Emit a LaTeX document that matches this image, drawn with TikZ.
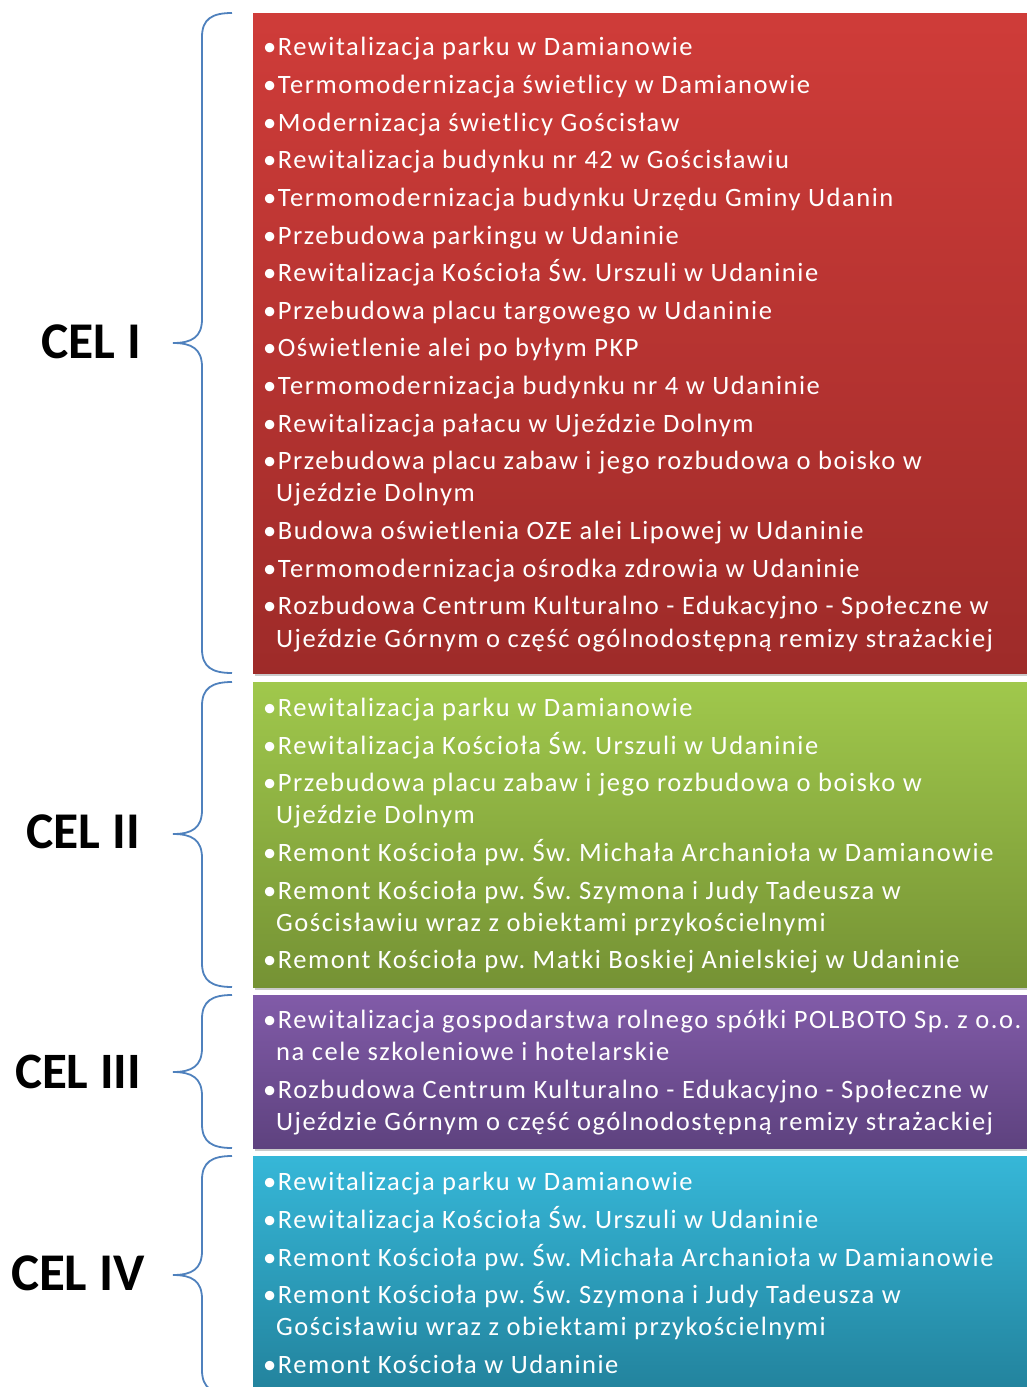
\documentclass[tikz,border=0pt]{standalone}
\usepackage{fontspec}
\setmainfont{Carlito}
\newfontfamily\itemfont[LetterSpace=5.8]{Carlito}
\frenchspacing
\usetikzlibrary{shadows}
\definecolor{bracecol}{RGB}{79,129,189}
\definecolor{redtop}{RGB}{207,60,57}
\definecolor{redbot}{RGB}{158,43,41}
\definecolor{grntop}{RGB}{160,200,76}
\definecolor{grnbot}{RGB}{117,146,52}
\definecolor{purtop}{RGB}{129,91,168}
\definecolor{purbot}{RGB}{94,66,127}
\definecolor{blutop}{RGB}{54,183,216}
\definecolor{blubot}{RGB}{34,130,156}
\tikzset{
  panel/.style={draw=none, drop shadow={shadow xshift=2pt, shadow yshift=-3pt, opacity=0.35, fill=black!60}},
  item/.style={anchor=base west, inner sep=0pt, text=white, font=\itemfont\fontsize{26.5}{30}\selectfont},
  cellabel/.style={anchor=base east, inner sep=0pt, text=black, font=\bfseries\fontsize{#1}{56}\selectfont},
  bracestyle/.style={draw=bracecol, line width=1.8pt}
}
\newcommand{\mybrace}[3]{% top, tip, bottom
  \draw[bracestyle] (232,#1) .. controls (212,#1) and (202,#1+6) .. (202,#1+24)
    -- (202,#2-24) .. controls (202,#2-6) and (192,#2) .. (173,#2)
    .. controls (192,#2) and (202,#2+6) .. (202,#2+24)
    -- (202,#3-24) .. controls (202,#3-6) and (212,#3) .. (232,#3);
}
\begin{document}
\begin{tikzpicture}[x=1pt,y=-1pt]
\useasboundingbox (0,0) rectangle (1027,1387);
% panels
\path[panel, top color=redtop, bottom color=redbot] (253,13) rectangle (1027,673);
\path[panel, top color=grntop, bottom color=grnbot] (253,682) rectangle (1027,987);
\path[panel, top color=purtop, bottom color=purbot] (253,995) rectangle (1027,1148);
\path[panel, top color=blutop, bottom color=blubot] (253,1156) rectangle (1027,1394);
% braces
\mybrace{13}{343}{673}
\mybrace{682}{834}{987}
\mybrace{995}{1072}{1148}
\mybrace{1156}{1275}{1394}
% labels
\node[cellabel=51.5] (c1) at (141,358) {CEL I};
\node[cellabel=51.5] (c2) at (140,848) {CEL II};
\node[cellabel=51] (c3) at (141,1088) {CEL III};
\node[cellabel=53] (c4) at (145,1290) {CEL IV};
% red
\node[item] (r1) at (263,55) {•Rewitalizacja parku w Damianowie};
\node[item] (r2) at (263,93) {•Termomodernizacja świetlicy w Damianowie};
\node[item] (r3) at (263,131) {•Modernizacja świetlicy Gościsław};
\node[item] (r4) at (263,168) {•Rewitalizacja budynku nr 42 w Gościsławiu};
\node[item] (r5) at (263,206) {•Termomodernizacja budynku Urzędu Gminy Udanin};
\node[item] (r6) at (263,244) {•Przebudowa parkingu w Udaninie};
\node[item] (r7) at (263,281) {•Rewitalizacja Kościoła Św. Urszuli w Udaninie};
\node[item] (r8) at (263,319) {•Przebudowa placu targowego w Udaninie};
\node[item] (r9) at (263,356) {•Oświetlenie alei po byłym PKP};
\node[item] (r10) at (263,394) {•Termomodernizacja budynku nr 4 w Udaninie};
\node[item] (r11) at (263,432) {•Rewitalizacja pałacu w Ujeździe Dolnym};
\node[item] (r12) at (263,469) {•Przebudowa placu zabaw i jego rozbudowa o boisko w};
\node[item] (r12b) at (276,501) {Ujeździe Dolnym};
\node[item] (r13) at (263,539) {•Budowa oświetlenia OZE alei Lipowej w Udaninie};
\node[item] (r14) at (263,577) {•Termomodernizacja ośrodka zdrowia w Udaninie};
\node[item] (r15) at (263,614) {•Rozbudowa Centrum Kulturalno - Edukacyjno - Społeczne w};
\node[item] (r15b) at (276,647) {Ujeździe Górnym o część ogólnodostępną remizy strażackiej};
% green
\node[item] (g1) at (263,716) {•Rewitalizacja parku w Damianowie};
\node[item] (g2) at (263,754) {•Rewitalizacja Kościoła Św. Urszuli w Udaninie};
\node[item] (g3) at (263,791) {•Przebudowa placu zabaw i jego rozbudowa o boisko w};
\node[item] (g3b) at (276,823) {Ujeździe Dolnym};
\node[item] (g4) at (263,861) {•Remont Kościoła pw. Św. Michała Archanioła w Damianowie};
\node[item] (g5) at (263,899) {•Remont Kościoła pw. Św. Szymona i Judy Tadeusza w};
\node[item] (g5b) at (276,931) {Gościsławiu wraz z obiektami przykościelnymi};
\node[item] (g6) at (263,968) {•Remont Kościoła pw. Matki Boskiej Anielskiej w Udaninie};
% purple
\node[item] (p1) at (263,1028) {•Rewitalizacja gospodarstwa rolnego spółki POLBOTO Sp. z o.o.};
\node[item] (p1b) at (276,1060) {na cele szkoleniowe i hotelarskie};
\node[item] (p2) at (263,1098) {•Rozbudowa Centrum Kulturalno - Edukacyjno - Społeczne w};
\node[item] (p2b) at (276,1130) {Ujeździe Górnym o część ogólnodostępną remizy strażackiej};
% blue
\node[item] (b1) at (263,1190) {•Rewitalizacja parku w Damianowie};
\node[item] (b2) at (263,1228) {•Rewitalizacja Kościoła Św. Urszuli w Udaninie};
\node[item] (b3) at (263,1266) {•Remont Kościoła pw. Św. Michała Archanioła w Damianowie};
\node[item] (b4) at (263,1303) {•Remont Kościoła pw. Św. Szymona i Judy Tadeusza w};
\node[item] (b4b) at (276,1335) {Gościsławiu wraz z obiektami przykościelnymi};
\node[item] (b5) at (263,1373) {•Remont Kościoła w Udaninie};
\end{tikzpicture}
\end{document}
